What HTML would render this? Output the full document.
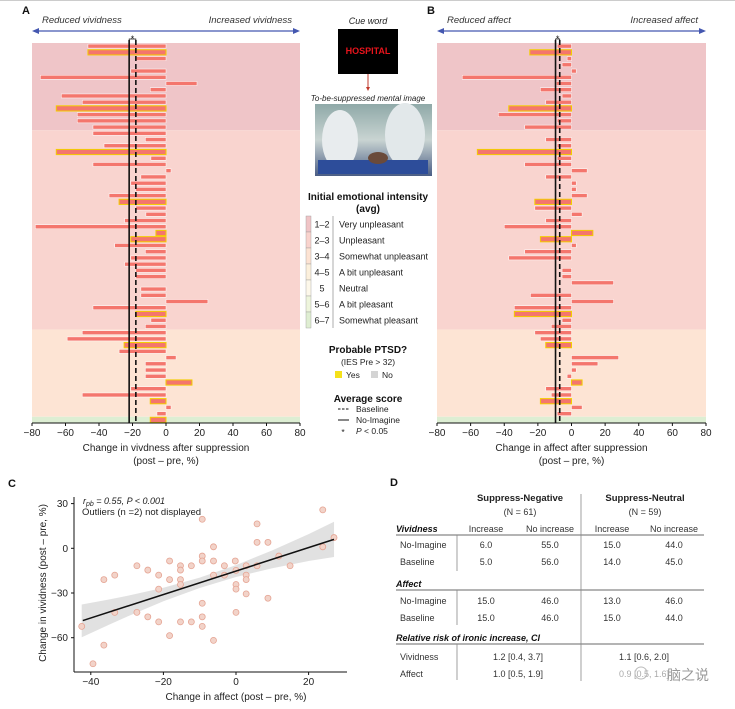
<!DOCTYPE html>
<html><head><meta charset="utf-8"><style>
body{margin:0;background:#fff;}
svg{display:block;font-family:"Liberation Sans","Noto Sans CJK SC",sans-serif;}
</style></head><body>
<svg id="fig" width="735" height="709" viewBox="0 0 735 709" xmlns="http://www.w3.org/2000/svg">
<line x1="0" y1="0.5" x2="735" y2="0.5" stroke="#ccc"/>
<g id="pA"></g>
<g id="pB"></g>
<g id="mid">
 <text x="368" y="24" font-size="9" font-style="italic" text-anchor="middle" fill="#222">Cue word</text>
 <rect x="338" y="29" width="60" height="45" fill="#000"/>
 <text x="368" y="54" font-size="9" font-weight="bold" fill="#e8141c" text-anchor="middle">HOSPITAL</text>
 <line x1="368" y1="74" x2="368" y2="88" stroke="#c0392b"/>
 <path d="M366,87 L370,87 L368,91 Z" fill="#c0392b"/>
 <text x="368" y="101" font-size="8" font-style="italic" text-anchor="middle" fill="#222">To-be-suppressed mental image</text>
 <g>
  <defs><linearGradient id="img" x1="0" y1="0" x2="0" y2="1"><stop offset="0" stop-color="#8fa9a8"/><stop offset="0.5" stop-color="#c9d4d2"/><stop offset="1" stop-color="#4a5d85"/></linearGradient></defs>
  <rect x="315" y="104" width="117" height="72" fill="url(#img)"/>
  <ellipse cx="340" cy="140" rx="18" ry="30" fill="#e8ecee"/>
  <ellipse cx="405" cy="135" rx="20" ry="32" fill="#e2e8ea"/>
  <rect x="318" y="160" width="110" height="14" fill="#2d4d9a"/>
  <ellipse cx="378" cy="158" rx="10" ry="6" fill="#6a4a3a"/>
 </g>
 <text x="368" y="200" font-size="10" font-weight="bold" text-anchor="middle" fill="#111">Initial emotional intensity</text>
 <text x="368" y="212" font-size="10" font-weight="bold" text-anchor="middle" fill="#111">(avg)</text>
 <g id="legRows"></g>
 <line x1="333" y1="216" x2="333" y2="328" stroke="#777" stroke-width="0.6"/>
 <text x="368" y="353" font-size="10" font-weight="bold" text-anchor="middle" fill="#111">Probable PTSD?</text>
 <text x="368" y="365" font-size="8.5" text-anchor="middle" fill="#222">(IES Pre &gt; 32)</text>
 <rect x="335" y="371" width="7" height="7" fill="#f5e11a"/>
 <text x="346" y="378" font-size="8.5" fill="#222">Yes</text>
 <rect x="371" y="371" width="7" height="7" fill="#d4d4d4"/>
 <text x="382" y="378" font-size="8.5" fill="#222">No</text>
 <text x="368" y="402" font-size="10" font-weight="bold" text-anchor="middle" fill="#111">Average score</text>
 <line x1="338" y1="409" x2="349" y2="409" stroke="#111" stroke-dasharray="2.5,1.5"/>
 <text x="356" y="412" font-size="8.5" fill="#222">Baseline</text>
 <line x1="338" y1="420" x2="349" y2="420" stroke="#111"/>
 <text x="356" y="423" font-size="8.5" fill="#222">No-Imagine</text>
 <text x="343" y="435" font-size="8.5" text-anchor="middle" fill="#222">*</text>
 <text x="356" y="434" font-size="8.5" fill="#222"><tspan font-style="italic">P</tspan> &lt; 0.05</text>
</g>
<g id="pC"></g>
<g id="pD"></g>
</svg>
<script>
// ---------- Data ----------
const vividValues=[-46.6,-46.6,-18,0,-21,-75,18.5,-9.4,-62.5,-50,-65.5,-53,-53,-43.6,-43.6,-12.3,-37,-65.5,-9,-43.6,3,-15,-21,-18,-34,-28,-18,-12,-24.7,-78,-6,-21,-30.6,-12.3,-21,-24.7,-18,-18,0,-15,-15,25,-43.6,-18,-9,-12.3,-50,-59,-25,-28,6,-12.3,-12.3,-12.3,15.5,-21,-50,-9.4,3,-5.4,-9.4];
const affectValues=[-8.5,-24.8,-2.6,-5.6,2.8,-65,-9,-18.5,-5.6,-15.3,-37.3,-43.5,-8.5,-27.8,0,-15.3,-8.5,-56,-8.5,-27.8,9.3,-15.3,2.8,2.8,9.3,-21.8,-21.8,6.3,-15.3,-40,12.7,-18.5,2.8,-27.8,-37.3,0,-5.6,-5.6,25,0,-24.4,25,-34,-34,-5.6,-12,-21.8,-18.5,-15.3,0,28,15.7,2.8,-2.6,6.3,-15.3,-12,-18.5,6.3,-8.5,0];
const ptsdRows=[1,10,17,25,30,31,43,48,54,57,60];
const bandGroups=["very-unpleasant","unpleasant","somewhat-unpleasant","somewhat-pleasant"];
const bandCounts=[14,32,14,1];
const bandColors=["#efc5c8","#f9d4cf","#fde4d4","#ddeed3"];
const meansA=[-22,-18]; // no-imagine, baseline
const meansB=[-9.5,-7];
const xTicks=[-80,-60,-40,-20,0,20,40,60,80];
const legendRanges=["1–2","2–3","3–4","4–5","5","5–6","6–7"];
const legendLabels=["Very unpleasant","Unpleasant","Somewhat unpleasant","A bit unpleasant","Neutral","A bit pleasant","Somewhat pleasant"];
const legendColors=["#f0c4c6","#f9d3cd","#fde3d3","#fcf0dc","#fdf8ea","#eef5dc","#dfeed2"];
// scatter
const scatterAffect=[-42.5,-39.4,-36.4,-36.4,-33.4,-33.4,-27.3,-27.3,-24.3,-24.3,-21.3,-21.3,-21.3,-18.3,-18.3,-18.3,-15.3,-15.3,-15.3,-15.3,-15.3,-12.3,-12.3,-9.3,-9.3,-9.3,-9.3,-9.3,-9.3,-6.2,-6.2,-6.2,-6.2,-3.2,-3.2,-0.2,0,0,0,0,2.8,2.8,2.8,2.8,5.8,5.8,5.8,8.8,8.8,11.8,14.9,23.9,23.9,27];
const scatterVivid=[-52.4,-77.5,-65,-21,-18,-43,-11.7,-43,-14.6,-46,-18,-27.4,-49.4,-8.5,-21,-58.6,-11.7,-14.6,-21,-24.3,-49.4,-11.7,-49.4,19.5,-5.2,-8.5,-36.9,-46,-52.4,1,-8.5,-18,-61.8,-11.7,-18,-8.5,-14.8,-24.3,-27.4,-43,-11.7,-18,-21,-30.6,16.4,4,-11.7,4,-33.5,-5.2,-11.7,25.8,1,7.2];
const fitEnds=[[-42.2,-48.5],[27,6]];
const bandX=[-42.5,-35,-30,-20,-10,0,10,20,27];
const bandHalf=[11,8.5,7,4.5,3.5,4,6,9,11.8];
const cXTicks=[-40,-20,0,20];
const cYTicks=[30,0,-30,-60];

const NS="http://www.w3.org/2000/svg";
function mk(parent,tag,attrs,text){const e=document.createElementNS(NS,tag);for(const k in attrs)e.setAttribute(k,attrs[k]);if(text!==undefined)e.textContent=text;parent.appendChild(e);return e;}

function barPanel(gid,x0,x1,values,means,labL,labR,title,letter){
 const g=document.getElementById(gid);
 const top=43,bot=423,n=values.length,rh=(bot-top)/n;
 const xs=v=>x0+(v+80)/160*(x1-x0);
 const ys=i=>top+(i+0.5)*rh;
 let t=mk(g,'text',{x:x0-10,y:14,'font-size':11,'font-weight':'bold',fill:'#111'},letter);
 
 
 t=mk(g,'text',{x:x0+10,y:23,'font-size':9.5,'font-style':'italic',fill:'#333'},labL);
 
 
 t=mk(g,'text',{x:x1-8,y:23,'font-size':9.5,'font-style':'italic',fill:'#333','text-anchor':'end'},labR);
 
 
 const ar=mk(g,'g',{});
 
 
 mk(ar,'line',{x1:x0+5,y1:31,x2:x1-5,y2:31,stroke:'#4457b0','stroke-width':1.3});
 mk(ar,'path',{d:`M${x0},31 L${x0+7},28 L${x0+7},34Z`,fill:'#4457b0'});
 mk(ar,'path',{d:`M${x1},31 L${x1-7},28 L${x1-7},34Z`,fill:'#4457b0'});
 let start=0;
 bandCounts.forEach((c,k)=>{
  const r=mk(g,'rect',{x:x0,y:top+start*rh,width:x1-x0,height:c*rh,fill:bandColors[k]});
  
  
  start+=c;
 });
 values.forEach((v,i)=>{
  if(v===0)return;
  const yel=ptsdRows.includes(i);
  const a=Math.min(xs(0),xs(v)),w=Math.abs(xs(v)-xs(0));
  const r=mk(g,'rect',{x:a,y:ys(i)-(yel?2.6:2),width:w,height:yel?5.2:4,fill:'#f4766d',stroke:yel?'#f3cd00':'#fff','stroke-width':yel?1:0.5});
  
  
 });
 let l=mk(g,'line',{x1:xs(means[0]),y1:top-3,x2:xs(means[0]),y2:bot,stroke:'#111','stroke-width':1.6});
 
 
 l=mk(g,'line',{x1:xs(means[1]),y1:top-3,x2:xs(means[1]),y2:bot,stroke:'#111','stroke-width':1.6,'stroke-dasharray':'5,3'});
 
 
 const sx=(xs(means[0])+xs(means[1]))/2;
 t=mk(g,'text',{x:sx,y:42,'font-size':9,'text-anchor':'middle',fill:'#111'},'*');
 
 
 mk(g,'path',{d:`M${xs(means[0])},41 L${xs(means[0])},39 L${xs(means[1])},39 L${xs(means[1])},41`,fill:'none',stroke:'#111','stroke-width':0.7});
 l=mk(g,'line',{x1:x0,y1:bot,x2:x1,y2:bot,stroke:'#111','stroke-width':1});
 
 
 xTicks.forEach(v=>{
  mk(g,'line',{x1:xs(v),y1:bot,x2:xs(v),y2:bot+3,stroke:'#111'});
  const tt=mk(g,'text',{x:xs(v),y:bot+13,'font-size':10,'text-anchor':'middle',fill:'#222'},v<0?'−'+(-v):String(v));
  
  
 });
 t=mk(g,'text',{x:(x0+x1)/2,y:451,'font-size':10,'text-anchor':'middle',fill:'#222'},title);
 
 
 t=mk(g,'text',{x:(x0+x1)/2,y:464,'font-size':10,'text-anchor':'middle',fill:'#222'},'(post – pre, %)');
 
 
}
barPanel('pA',32,300,vividValues,meansA,'Reduced vividness','Increased vividness','Change in vivdness after suppression','A');
barPanel('pB',437,706,affectValues,meansB,'Reduced affect','Increased affect','Change in affect after suppression','B');

// legend rows
const lg=document.getElementById('legRows');
legendRanges.forEach((r,i)=>{
 const y=216+i*16;
 const row=mk(lg,'g',{});
 
 
 mk(row,'rect',{x:306,y:y,width:5,height:16,fill:legendColors[i],stroke:'#999','stroke-width':0.4});
 mk(row,'text',{x:322,y:y+11.5,'font-size':9,'text-anchor':'middle',fill:'#222'},r);
 mk(row,'text',{x:339,y:y+11.5,'font-size':9,fill:'#222'},legendLabels[i]);
});

// panel C
(function(){
 const g=document.getElementById('pC');
 const xs=v=>236+v*3.63, ys=v=>548.3-v*1.49;
 let t=mk(g,'text',{x:8,y:487,'font-size':11,'font-weight':'bold',fill:'#111'},'C');
 
 
 let d='';
 bandX.forEach((x,i)=>{const y=lineY(x)+bandHalf[i];d+=(i?'L':'M')+xs(x)+','+ys(y);});
 for(let i=bandX.length-1;i>=0;i--){const y=lineY(bandX[i])-bandHalf[i];d+='L'+xs(bandX[i])+','+ys(y);}
 const band=mk(g,'path',{d:d+'Z',fill:'#dcdcdc',opacity:0.85});
 
 
 scatterAffect.forEach((a,i)=>{
  const c=mk(g,'circle',{cx:xs(a),cy:ys(scatterVivid[i]),r:3,fill:'#f2d3c9',stroke:'#e5a493','stroke-width':0.8});
  
  
 });
 const fl=mk(g,'line',{x1:xs(fitEnds[0][0]),y1:ys(fitEnds[0][1]),x2:xs(fitEnds[1][0]),y2:ys(fitEnds[1][1]),stroke:'#111','stroke-width':1.5});
 
 
 mk(g,'line',{x1:74,y1:497,x2:74,y2:672,stroke:'#111'});
 mk(g,'line',{x1:74,y1:672,x2:347,y2:672,stroke:'#111'});
 cXTicks.forEach(v=>{
  mk(g,'line',{x1:xs(v),y1:672,x2:xs(v),y2:675,stroke:'#111'});
  const tt=mk(g,'text',{x:xs(v),y:685,'font-size':10,'text-anchor':'middle',fill:'#222'},v<0?'−'+(-v):String(v));
  
  
 });
 cYTicks.forEach(v=>{
  mk(g,'line',{x1:71,y1:ys(v),x2:74,y2:ys(v),stroke:'#111'});
  const tt=mk(g,'text',{x:68,y:ys(v)+3.5,'font-size':10,'text-anchor':'end',fill:'#222'},v<0?'−'+(-v):String(v));
  
  
 });
 t=mk(g,'text',{x:236,y:700,'font-size':10,'text-anchor':'middle',fill:'#222'},'Change in affect (post – pre, %)');
 
 
 t=mk(g,'text',{x:46,y:583,'font-size':10,'text-anchor':'middle',fill:'#222',transform:'rotate(-90 46 583)'},'Change in vividness (post – pre, %)');
 
 
 t=mk(g,'text',{x:83,y:504,'font-size':9,'font-style':'italic',fill:'#222'});
 t.innerHTML='r<tspan font-size="7" dy="2">pb</tspan><tspan dy="-2"> = 0.55, P &lt; 0.001</tspan>';
 
 
 t=mk(g,'text',{x:82,y:515,'font-size':9.5,fill:'#222'},'Outliers (n =2) not displayed');
 
 
 function lineY(x){return fitEnds[0][1]+(fitEnds[1][1]-fitEnds[0][1])*(x-fitEnds[0][0])/(fitEnds[1][0]-fitEnds[0][0]);}
})();

// panel D
(function(){
 const g=document.getElementById('pD');
 const T=(x,y,s,o,name)=>{const e=mk(g,'text',Object.assign({x:x,y:y,'font-size':9,fill:'#333'},o||{}),s);return e;};
 const L=(x1,y1,x2,y2,w)=>mk(g,'line',{x1:x1,y1:y1,x2:x2,y2:y2,stroke:'#888','stroke-width':w||0.8});
 T(390,486,'D',{'font-size':11,'font-weight':'bold',fill:'#111'},'panel-letter');
 T(520,501,'Suppress-Negative',{'font-size':9.5,'font-weight':'bold','text-anchor':'middle',fill:'#222'},'header-suppress-negative');
 T(520,515,'(N = 61)',{'text-anchor':'middle'},'header-n-negative');
 T(645,501,'Suppress-Neutral',{'font-size':9.5,'font-weight':'bold','text-anchor':'middle',fill:'#222'},'header-suppress-neutral');
 T(645,515,'(N = 59)',{'text-anchor':'middle'},'header-n-neutral');
 L(581,494,581,681);
 const cols=[486,550,612,674];
 T(396,532,'Vividness',{'font-weight':'bold','font-style':'italic',fill:'#111'},'section-vividness');
 ['Increase','No increase','Increase','No increase'].forEach((s,i)=>T(cols[i],532,s,{'text-anchor':'middle'},'column-header'));
 L(396,535,704,535,1.2);
 L(457,535,457,571);
 const rows=[['No-Imagine',548,['6.0','55.0','15.0','44.0']],['Baseline',565,['5.0','56.0','14.0','45.0']],['No-Imagine',604,['15.0','46.0','13.0','46.0']],['Baseline',621,['15.0','46.0','15.0','44.0']]];
 rows.forEach(r=>{T(400,r[1],r[0],{},'row-label');r[2].forEach((v,i)=>T(cols[i],r[1],v,{'text-anchor':'middle'}));});
 T(396,587,'Affect',{'font-weight':'bold','font-style':'italic',fill:'#111'},'section-affect');
 L(396,590,704,590,1.2);
 L(457,590,457,625);
 T(396,641,'Relative risk of ironic increase, CI',{'font-weight':'bold','font-style':'italic',fill:'#111'},'section-relative-risk');
 L(396,644,704,644,1.2);
 L(457,644,457,680);
 T(400,660,'Vividness',{},'row-label');T(518,660,'1.2 [0.4, 3.7]',{'text-anchor':'middle'});T(644,660,'1.1 [0.6, 2.0]',{'text-anchor':'middle'});
 T(400,677,'Affect',{},'row-label');T(518,677,'1.0 [0.5, 1.9]',{'text-anchor':'middle'});T(644,677,'0.9 [0.5, 1.6]',{'text-anchor':'middle',fill:'#aaa'});
 mk(g,'circle',{cx:641,cy:673,r:6,fill:'none',stroke:'#bbb','stroke-width':1});
 T(688,680,'脑之说',{'font-size':14,'text-anchor':'middle',fill:'#999'},'watermark');
})();
</script>
</body></html>
